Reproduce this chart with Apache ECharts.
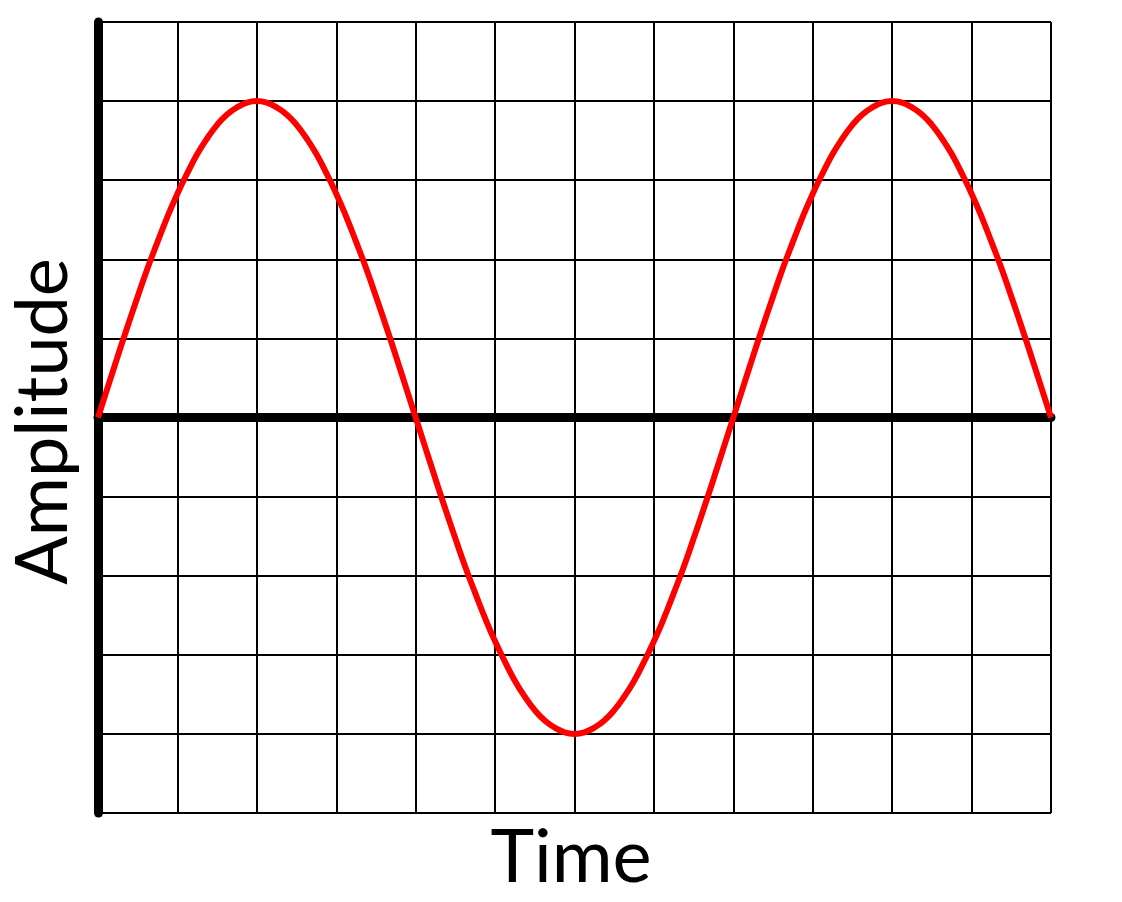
<!DOCTYPE html>
<html>
<head>
<meta charset="utf-8">
<script src="https://cdn.jsdelivr.net/npm/echarts@6/dist/echarts.min.js"></script>
<style>
html,body{margin:0;padding:0;background:#fff;}
#chart{width:1122px;height:902px;}
</style>
</head>
<body>
<div id="chart"></div>
<script>
// Time positions (grid units) and amplitude
const timeValues = [
  0, 0.125, 0.25, 0.375, 0.5, 0.625, 0.75, 0.875, 1, 1.125, 1.25, 1.375, 1.5, 1.625, 1.75, 1.875,
  2, 2.125, 2.25, 2.375, 2.5, 2.625, 2.75, 2.875, 3, 3.125, 3.25, 3.375, 3.5, 3.625, 3.75, 3.875,
  4, 4.125, 4.25, 4.375, 4.5, 4.625, 4.75, 4.875, 5, 5.125, 5.25, 5.375, 5.5, 5.625, 5.75, 5.875,
  6, 6.125, 6.25, 6.375, 6.5, 6.625, 6.75, 6.875, 7, 7.125, 7.25, 7.375, 7.5, 7.625, 7.75, 7.875,
  8, 8.125, 8.25, 8.375, 8.5, 8.625, 8.75, 8.875, 9, 9.125, 9.25, 9.375, 9.5, 9.625, 9.75, 9.875,
  10, 10.125, 10.25, 10.375, 10.5, 10.625, 10.75, 10.875, 11, 11.125, 11.25, 11.375, 11.5, 11.625, 11.75, 11.875,
  12
];
const amplitudeValues = [
  0, 0.39, 0.78, 1.16, 1.53, 1.89, 2.22, 2.54, 2.83, 3.09, 3.33, 3.53, 3.70, 3.83, 3.92, 3.98,
  4.00, 3.98, 3.92, 3.83, 3.70, 3.53, 3.33, 3.09, 2.83, 2.54, 2.22, 1.89, 1.53, 1.16, 0.78, 0.39,
  0, -0.39, -0.78, -1.16, -1.53, -1.89, -2.22, -2.54, -2.83, -3.09, -3.33, -3.53, -3.70, -3.83, -3.92, -3.98,
  -4.00, -3.98, -3.92, -3.83, -3.70, -3.53, -3.33, -3.09, -2.83, -2.54, -2.22, -1.89, -1.53, -1.16, -0.78, -0.39,
  0, 0.39, 0.78, 1.16, 1.53, 1.89, 2.22, 2.54, 2.83, 3.09, 3.33, 3.53, 3.70, 3.83, 3.92, 3.98,
  4.00, 3.98, 3.92, 3.83, 3.70, 3.53, 3.33, 3.09, 2.83, 2.54, 2.22, 1.89, 1.53, 1.16, 0.78, 0.39,
  0
];
const xAxisName = 'Time';
const yAxisName = 'Amplitude';

const seriesData = timeValues.map((t, i) => [t, amplitudeValues[i]]);

const chart = echarts.init(document.getElementById('chart'), null, {renderer: 'canvas'});
const gridLine = {show: true, lineStyle: {color: '#000', width: 2}};
chart.setOption({
  animation: false,
  backgroundColor: '#fff',
  grid: {left: 98, top: 22, right: 71, bottom: 89, containLabel: false, outerBoundsMode: 'none'},
  xAxis: [
    {
      type: 'value', min: 0, max: 12, interval: 1,
      axisLine: {show: true, onZero: true, lineStyle: {color: '#000', width: 9}},
      axisTick: {show: false}, axisLabel: {show: false},
      splitLine: gridLine
    },
    {
      type: 'value', min: 0, max: 12, interval: 1, position: 'bottom',
      axisLine: {show: false, onZero: false},
      axisTick: {show: false}, axisLabel: {show: false}, splitLine: {show: false},
      name: xAxisName, nameLocation: 'middle', nameGap: 8,
      nameTextStyle: {fontFamily: 'Lato', fontSize: 74, color: '#000', verticalAlign: 'top', padding: [0, 7, 0, 0]}
    }
  ],
  yAxis: {
    type: 'value', min: -5, max: 5, interval: 1,
    axisLine: {show: true, onZero: false, lineStyle: {color: '#000', width: 9}},
    axisTick: {show: false}, axisLabel: {show: false},
    splitLine: gridLine,
    name: yAxisName, nameLocation: 'middle', nameRotate: 90, nameGap: 18,
    nameTextStyle: {fontFamily: 'Lato', fontSize: 72, color: '#000', padding: [0, 8, 0, 0]}
  },
  series: [{
    type: 'line',
    data: seriesData,
    smooth: true,
    symbol: 'none',
    clip: false,
    lineStyle: {color: '#ff0000', width: 6},
    z: 5
  }]
});
</script>
</body>
</html>
